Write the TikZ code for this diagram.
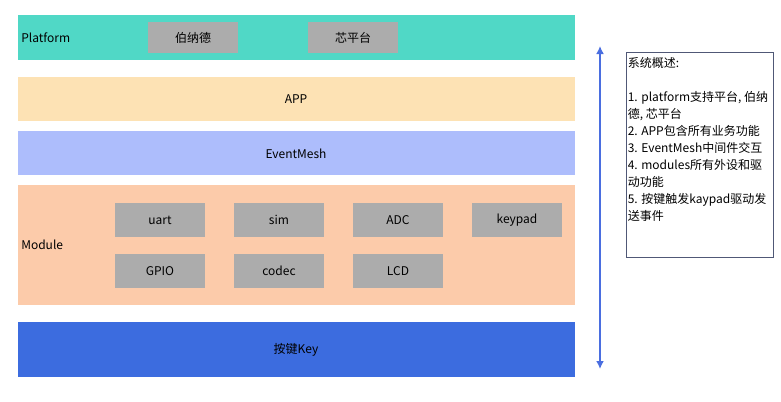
\documentclass[tikz,border=0pt]{standalone}
\usepackage{fontspec}
\setmainfont{Noto Sans CJK SC}
\usepackage{tikz}
\usetikzlibrary{arrows.meta}

\definecolor{platcolor}{RGB}{80,216,198}
\definecolor{appcolor}{RGB}{253,226,180}
\definecolor{meshcolor}{RGB}{173,189,252}
\definecolor{modcolor}{RGB}{252,203,170}
\definecolor{keycolor}{RGB}{60,108,223}
\definecolor{unitgray}{RGB}{172,172,172}
\definecolor{arrowblue}{RGB}{74,110,224}
\definecolor{noteframe}{RGB}{80,88,118}

\tikzset{
    unit/.style={fill=unitgray, inner sep=0pt, minimum width=67.5pt, minimum height=25.5pt, font=\fontsize{9}{11}\selectfont},
    label/.style={inner sep=0pt, font=\fontsize{9}{11}\selectfont}
}

\begin{document}
\begin{tikzpicture}[x=0.75pt, y=-0.75pt]
    \useasboundingbox (0, 0) rectangle (781, 401);
    % layers
    \fill[platcolor] (18, 15) rectangle (575, 60);
    \fill[appcolor] (18, 77) rectangle (575, 121);
    \fill[meshcolor] (18, 131) rectangle (575, 175);
    \fill[modcolor] (18, 185) rectangle (575, 305);
    \fill[keycolor] (18, 322) rectangle (575, 377);
    \node[label, anchor=west] (platform) at (21, 38) {Platform};
    \node[label] (app) at (296, 99.5) {APP};
    \node[label] (eventmesh) at (296, 153.5) {EventMesh};
    \node[label, anchor=west] (module) at (21, 245) {Module};
    \node[label] (key) at (296, 350) {按键Key};
    % platform units
    \node[unit, minimum height=23.25pt] (bonade) at (193, 37.5) {伯纳德};
    \node[unit, minimum height=23.25pt] (xinpt) at (353, 37.5) {芯平台};
    % module units
    \node[unit] (uart) at (160, 220) {uart};
    \node[unit] (sim) at (279, 220) {sim};
    \node[unit] (adc) at (398, 220) {ADC};
    \node[unit] (keypad) at (517, 220) {keypad};
    \node[unit] (gpio) at (160, 271) {GPIO};
    \node[unit] (codec) at (279, 271) {codec};
    \node[unit] (lcd) at (398, 271) {LCD};
    % arrow
    \coordinate (arrtop) at (600, 46);
    \coordinate (arrbot) at (600, 369);
    \draw[arrowblue, line width=1.3pt, {Latex[length=6pt, width=6pt]}-{Latex[length=6pt, width=6pt]}] (arrtop) -- (arrbot);
    % note
    \draw[noteframe, line width=0.6pt] (626, 52) rectangle (773, 257);
    \node[label, anchor=north west, align=left, font=\fontsize{9}{12.75}\selectfont] (note) at (627.5, 57) {系统概述:\\[12.75pt]1. platform支持平台, 伯纳\\德, 芯平台\\2. APP包含所有业务功能\\3. EventMesh中间件交互\\4. modules所有外设和驱\\动功能\\5. 按键触发kaypad驱动发\\送事件};
\end{tikzpicture}
\end{document}
